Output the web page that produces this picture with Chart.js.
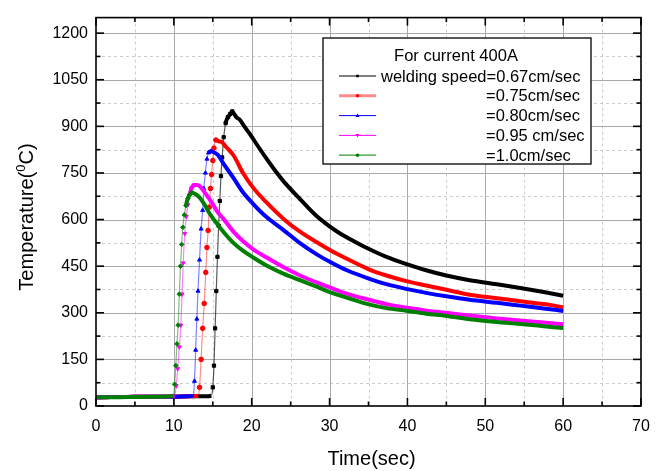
<!DOCTYPE html>
<html><head><meta charset="utf-8">
<script src="https://cdn.jsdelivr.net/npm/chart.js@4.4.0/dist/chart.umd.min.js"></script>
<style>html,body{margin:0;padding:0;background:#fff;}canvas{display:block;}</style>
</head><body>
<canvas id="c" width="666" height="471"></canvas>
<script>
// ---- data ----
const legendTitle = 'For current 400A';
const seriesLabels = ['welding speed=0.67cm/sec', '=0.75cm/sec', '=0.80cm/sec', '=0.95 cm/sec', '=1.0cm/sec'];
const xAxisTitle = 'Time(sec)';
const xTickValues = [0, 10, 20, 30, 40, 50, 60, 70];
const yTickValues = [0, 150, 300, 450, 600, 750, 900, 1050, 1200];

const time067 = [0,2,4,6,8,10,12,14,14.8,15.0,15.15,15.3,15.45,15.6,15.75,15.9,16.05,16.2,16.4,16.65,16.95,17.25,17.5,17.75,18.05,18.45,19.05,19.8,20.7,21.9,23,24.1,26.2,28.3,30,31.3,33.3,35,37.3,40,42.4,45,48,51.5,54.5,57.5,60];
const temp067 = [28,29,29,30,30,30,31,31,33,60,130,250,370,480,580,660,740,800,865,910,930,940,948,940,929,922,900,874,840,796,758,723,666,612,578,556,528,506,480,456,437,420,405,392,380,367,355];

const time075 = [0,2,4,6,8,10,12,13.1,13.3,13.5,13.7,13.9,14.1,14.25,14.4,14.55,14.7,14.85,15.0,15.15,15.4,15.75,16.15,16.65,17.65,18.9,20.2,21.9,24.05,26.2,28.35,30.2,32.3,35.05,37.3,40,42.4,45,48,51.5,54.5,57.5,60];
const temp075 = [28,29,29,30,30,30,31,33,60,150,250,330,430,510,565,640,700,745,790,830,856,852,850,835,807,749,702,655,603,561,527,500,473,440,420,401,388,374,358,347,337,328,318];

const time080 = [0,2,4,6,8,10,12,12.5,12.65,12.8,12.95,13.1,13.3,13.5,13.7,13.85,14.05,14.25,14.45,14.75,15.25,15.65,16.35,17.65,18.9,20.2,21.9,24.05,26.2,28.35,30.2,32.3,35.05,37.3,40,42.4,45,48,51.5,54.5,57.5,60];
const temp080 = [28,29,29,30,30,30,31,35,80,180,280,370,470,570,630,700,750,795,815,820,815,808,781,734,687,650,608,567,524,488,462,436,410,392,376,364,353,342,332,323,314,306];

const time095 = [0,2,4,6,8,10.1,10.3,10.5,10.7,10.9,11.05,11.2,11.4,11.6,11.8,12.0,12.25,12.6,13.0,13.4,13.9,14.4,15.0,15.6,16.35,17.65,18.9,20.2,21.9,24.05,26.2,28.35,30.2,32.3,35.05,37.3,40,42.4,45,48,51.5,54.5,57.5,60];
const temp095 = [28,29,29,30,30,33,65,120,190,260,360,460,555,610,648,678,700,711,711,706,690,672,650,625,603,561,530,504,478,447,420,398,380,361,342,328,316,307,300,291,282,275,269,263];

const time100 = [0,2,4,6,8,9.95,10.1,10.25,10.4,10.55,10.7,10.85,11.0,11.15,11.35,11.55,11.8,12.05,12.3,12.7,13.35,13.9,14.45,15.05,16.35,17.65,18.9,20.2,21.9,24.05,26.2,28.35,30.2,32.3,35.05,37.3,40,42.4,45,48,51.5,54.5,57.5,60];
const temp100 = [28,28,29,29,30,33,70,130,200,260,360,450,520,575,615,645,668,680,687,683,670,650,625,603,561,525,499,478,452,426,405,384,365,348,327,315,306,297,290,279,270,264,257,251];

// ---- styling ----
const FONT = "'Liberation Sans', Arial, sans-serif";
const colors = ['#000000', '#ff0000', '#0000ff', '#ff00ff', '#008000'];
const fades = ['rgba(0,0,0,0.65)', 'rgba(255,0,0,0.45)', 'rgba(0,0,255,0.5)', 'rgba(255,0,255,0.5)', 'rgba(0,128,0,0.5)'];
const legendLine = ['#000000', 'rgba(255,0,0,0.45)', '#0000ff', '#ff00ff', 'rgba(0,128,0,0.8)'];
const legendLineW = [1, 3, 1, 1, 1.3];
const pStyles = ['rect', 'circle', 'triangle', 'triangle', 'rectRot'];
const pRot = [0, 0, 0, 180, 0];
const series = [[time067, temp067], [time075, temp075], [time080, temp080], [time095, temp095], [time100, temp100]];

const rising = c => (c.p1.parsed.y - c.p0.parsed.y) / (c.p1.parsed.x - c.p0.parsed.x) > 100;

const datasets = series.map((s, k) => ({
  label: seriesLabels[k],
  data: s[0].map((t, i) => ({x: t, y: s[1][i]})),
  borderColor: colors[k],
  backgroundColor: colors[k],
  borderWidth: 4,
  cubicInterpolationMode: 'monotone',
  pointStyle: pStyles[k],
  pointRotation: pRot[k],
  pointBackgroundColor: colors[k],
  pointBorderColor: colors[k],
  pointBorderWidth: 1,
  pointRadius: ctx => {
    const d = ctx.dataset.data; let pk = 0;
    for (let i = 1; i < d.length; i++) if (d[i].y > d[pk].y) pk = i;
    const i = ctx.dataIndex;
    return (i <= pk && d[i].y > 45) ? 2.3 : 0;
  },
  pointHoverRadius: 0,
  segment: {
    borderWidth: c => rising(c) ? 1.2 : 4,
    borderColor: c => rising(c) ? fades[k] : undefined
  },
  fill: false,
  order: 4 - k
}));

function seg(ctx, x1, y1, x2, y2) { ctx.beginPath(); ctx.moveTo(x1, y1); ctx.lineTo(x2, y2); ctx.stroke(); }

function marker(ctx, k, x, y) {
  ctx.fillStyle = colors[k];
  ctx.beginPath();
  const r = 1.8;
  if (k === 0) { ctx.rect(x - 1.3, y - 1.3, 2.6, 2.6); }
  else if (k === 1 || k === 4) { ctx.arc(x, y, r, 0, Math.PI * 2); }
  else if (k === 2) { ctx.moveTo(x, y - 2); ctx.lineTo(x + 2, y + 1.5); ctx.lineTo(x - 2, y + 1.5); ctx.closePath(); }
  else { ctx.moveTo(x, y + 2); ctx.lineTo(x + 2, y - 1.5); ctx.lineTo(x - 2, y - 1.5); ctx.closePath(); }
  ctx.fill();
}

const decor = {
  id: 'decor',
  beforeDatasetsDraw(chart) {
    const {ctx, chartArea: a, scales: {x, y}} = chart;
    ctx.save();
    ctx.lineWidth = 1;
    ctx.strokeStyle = '#cdcdcd';
    ctx.setLineDash([3, 3]);
    for (let v = 5; v < 70; v += 10) { const px = Math.round(x.getPixelForValue(v)) + 0.5; seg(ctx, px, a.top, px, a.bottom); }
    for (let v = 75; v < 1250; v += 150) { const py = Math.round(y.getPixelForValue(v)) + 0.5; seg(ctx, a.left, py, a.right, py); }
    ctx.setLineDash([]);
    ctx.strokeStyle = '#a9a9a9';
    for (let v = 10; v < 70; v += 10) { const px = Math.round(x.getPixelForValue(v)) + 0.5; seg(ctx, px, a.top, px, a.bottom); }
    for (let v = 150; v <= 1200; v += 150) { const py = Math.round(y.getPixelForValue(v)) + 0.5; seg(ctx, a.left, py, a.right, py); }
    ctx.restore();
  },
  afterDatasetsDraw(chart) {
    const {ctx, chartArea: a, scales: {x, y}} = chart;
    ctx.save();
    // frame
    ctx.strokeStyle = '#000'; ctx.lineWidth = 1.6;
    ctx.strokeRect(a.left, a.top, a.right - a.left, a.bottom - a.top);
    // inward ticks
    for (let v = 0; v <= 70; v += 5) {
      const px = x.getPixelForValue(v), L = (v % 10 === 0) ? 8 : 4.5;
      seg(ctx, px, a.bottom, px, a.bottom - L); seg(ctx, px, a.top, px, a.top + L);
    }
    for (let v = 0; v <= 1200; v += 75) {
      const py = y.getPixelForValue(v), L = (v % 150 === 0) ? 8 : 4.5;
      seg(ctx, a.left, py, a.left + L, py); seg(ctx, a.right, py, a.right - L, py);
    }
    // axis titles
    ctx.fillStyle = '#000';
    ctx.textAlign = 'center'; ctx.textBaseline = 'alphabetic';
    ctx.font = `20px ${FONT}`;
    ctx.fillText(xAxisTitle, (a.left + a.right) / 2 + 3, 465);
    ctx.save();
    ctx.translate(33, 217); ctx.rotate(-Math.PI / 2);
    ctx.textAlign = 'left';
    const p1 = 'Temperature(', sup = '0', p3 = 'C)';
    ctx.font = `20px ${FONT}`; const w1 = ctx.measureText(p1).width; const w3 = ctx.measureText(p3).width;
    ctx.font = `13px ${FONT}`; const w2 = ctx.measureText(sup).width;
    let xx = -(w1 + w2 + w3) / 2;
    ctx.font = `20px ${FONT}`; ctx.fillText(p1, xx, 0);
    ctx.font = `13px ${FONT}`; ctx.fillText(sup, xx + w1, -8);
    ctx.font = `20px ${FONT}`; ctx.fillText(p3, xx + w1 + w2, 0);
    ctx.restore();
    // legend
    const bx = 323, by = 38, bw = 268, bh = 126;
    ctx.fillStyle = '#fff'; ctx.fillRect(bx, by, bw, bh);
    ctx.strokeStyle = '#222'; ctx.lineWidth = 1.5; ctx.strokeRect(bx, by, bw, bh);
    ctx.fillStyle = '#000'; ctx.font = `16.5px ${FONT}`; ctx.textBaseline = 'middle';
    ctx.textAlign = 'center'; ctx.fillText(legendTitle, 456, 56);
    ctx.textAlign = 'left';
    for (let k = 0; k < 5; k++) {
      const ry = 76 + k * 19.8;
      ctx.strokeStyle = legendLine[k]; ctx.lineWidth = legendLineW[k];
      seg(ctx, 339, ry, 376, ry);
      marker(ctx, k, 357.5, ry);
      ctx.fillStyle = '#000';
      ctx.fillText(seriesLabels[k], k === 0 ? 381 : 486, ry + 1);
    }
    ctx.restore();
  }
};

new Chart(document.getElementById('c'), {
  type: 'line',
  data: {datasets},
  options: {
    responsive: false,
    devicePixelRatio: 1,
    animation: false,
    events: [],
    layout: {padding: {top: 6, right: 25, left: 0, bottom: 0}},
    plugins: {legend: {display: false}, tooltip: {enabled: false}},
    scales: {
      x: {
        type: 'linear', min: 0, max: 70,
        afterBuildTicks: s => { s.ticks = xTickValues.map(v => ({value: v})); },
        ticks: {color: '#000', font: {family: FONT, size: 16}, padding: 11, maxRotation: 0, autoSkip: false,
          callback: v => String(v)},
        grid: {display: false, drawTicks: false},
        border: {display: false},
        afterFit: s => { s.height = 65; }
      },
      y: {
        type: 'linear', min: 0, max: 1250,
        afterBuildTicks: s => { s.ticks = yTickValues.map(v => ({value: v})); },
        ticks: {color: '#000', font: {family: FONT, size: 16}, padding: 8, autoSkip: false,
          callback: v => String(v)},
        grid: {display: false, drawTicks: false},
        border: {display: false},
        afterFit: s => { s.width = 96; }
      }
    }
  },
  plugins: [decor]
});
</script>
</body></html>
